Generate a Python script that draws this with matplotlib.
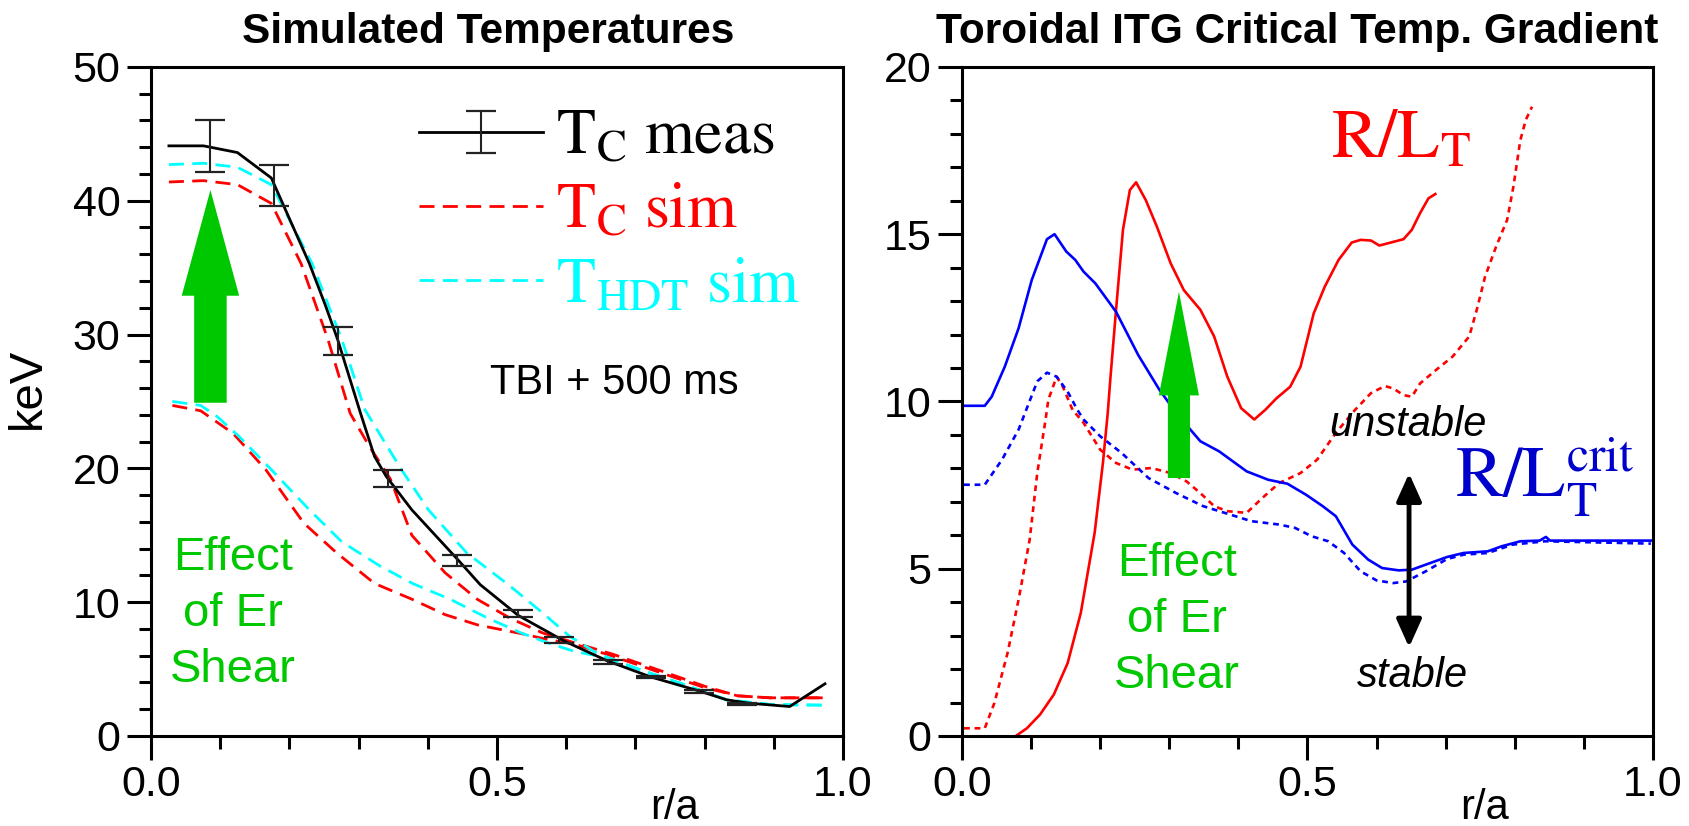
import numpy as np
import matplotlib
matplotlib.use('Agg')
import matplotlib.pyplot as plt
from matplotlib.ticker import MultipleLocator
from matplotlib.container import ErrorbarContainer
from matplotlib.legend_handler import HandlerTuple, HandlerErrorbar

# ─── Left panel data: simulated temperatures (keV vs r/a) ─────────
tc_meas_r = [0.026, 0.076, 0.125, 0.174, 0.229, 0.252, 0.27, 0.303, 0.323, 0.34, 0.377,
             0.443, 0.476, 0.531, 0.597, 0.66, 0.723, 0.793, 0.832, 0.864, 0.923, 0.974]
tc_meas = [44.1, 44.1, 43.6, 41.7, 35.3, 32.2, 29.6, 24.1, 20.9, 19.4, 16.9,
           13.2, 11.3, 9.0, 7.1, 5.6, 4.4, 3.35, 2.7, 2.45, 2.2, 3.9]

eb_r = [0.086, 0.178, 0.27, 0.342, 0.443, 0.531, 0.589, 0.66, 0.723, 0.792, 0.854]
eb_lo = [42.15, 39.6, 28.5, 18.6, 12.7, 8.9, 6.95, 5.4, 4.3, 3.2, 2.3]
eb_hi = [46.0, 42.7, 30.6, 19.86, 13.5, 9.44, 7.4, 5.66, 4.5, 3.4, 2.5]

tc_sim_r = [0.026, 0.076, 0.125, 0.174, 0.217, 0.256, 0.288, 0.315, 0.346, 0.377, 0.425,
            0.472, 0.519, 0.566, 0.613, 0.668, 0.738, 0.801, 0.848, 0.895, 0.974]
tc_sim = [41.4, 41.5, 41.2, 39.8, 35.3, 29.6, 24.1, 21.7, 19.2, 15.0, 12.2,
          10.2, 8.8, 7.7, 6.95, 6.1, 4.85, 3.7, 3.0, 2.85, 2.85]

thdt_sim_r = [0.026, 0.076, 0.125, 0.174, 0.233, 0.276, 0.309, 0.362, 0.401, 0.456,
              0.519, 0.566, 0.605, 0.644, 0.707, 0.77, 0.832, 0.895, 0.974]
thdt_sim = [42.7, 42.8, 42.5, 41.2, 35.3, 29.6, 24.4, 19.9, 16.9, 13.7,
            11.2, 9.2, 7.45, 6.2, 4.95, 3.85, 2.7, 2.35, 2.3]

# without Er shear
tc_noer_r = [0.031, 0.072, 0.119, 0.166, 0.221, 0.268, 0.323, 0.378, 0.425, 0.472,
             0.535, 0.574, 0.613, 0.668, 0.738, 0.801, 0.848, 0.895, 0.974]
tc_noer = [24.7, 24.3, 22.6, 19.9, 15.9, 13.7, 11.4, 10.2, 9.07, 8.3,
           7.65, 7.2, 6.85, 5.95, 4.7, 3.6, 3.0, 2.85, 2.85]

thdt_noer_r = [0.031, 0.072, 0.095, 0.127, 0.174, 0.229, 0.276, 0.331, 0.378, 0.433,
               0.487, 0.535, 0.574, 0.613, 0.644, 0.707, 0.77, 0.832, 0.895, 0.974]
thdt_noer = [25.0, 24.7, 23.9, 22.4, 19.9, 16.9, 14.5, 12.7, 11.4, 10.2,
             8.8, 7.7, 6.95, 6.3, 6.0, 4.95, 3.85, 2.7, 2.35, 2.3]

# ─── Right panel data: R/L_T and critical gradient ────────────────
crit_r = [0.003, 0.033, 0.043, 0.062, 0.082, 0.101, 0.123, 0.134, 0.151, 0.164, 0.176,
          0.193, 0.223, 0.255, 0.286, 0.31, 0.318, 0.345, 0.372, 0.412, 0.443, 0.471,
          0.498, 0.522, 0.541, 0.565, 0.588, 0.608, 0.632, 0.651, 0.671, 0.702, 0.726,
          0.761, 0.781, 0.808, 0.836, 0.845, 0.851, 0.997]
crit = [9.87, 9.87, 10.14, 11.04, 12.19, 13.63, 14.85, 15.0, 14.48, 14.23, 13.88,
        13.53, 12.68, 11.39, 10.34, 9.66, 9.46, 8.81, 8.51, 7.91, 7.66, 7.54,
        7.21, 6.87, 6.57, 5.72, 5.27, 5.02, 4.95, 4.97, 5.12, 5.35, 5.47,
        5.52, 5.67, 5.82, 5.84, 5.95, 5.84, 5.84]

crit_noer_r = [0.003, 0.033, 0.058, 0.082, 0.094, 0.109, 0.123, 0.137, 0.153, 0.167,
               0.176, 0.2, 0.231, 0.27, 0.31, 0.349, 0.38, 0.419, 0.459, 0.482, 0.506,
               0.53, 0.553, 0.577, 0.6, 0.624, 0.643, 0.671, 0.702, 0.726, 0.761,
               0.797, 0.844, 0.997]
crit_noer = [7.51, 7.51, 8.26, 9.16, 9.8, 10.6, 10.86, 10.74, 10.29, 9.75,
             9.46, 8.96, 8.46, 7.71, 7.26, 6.87, 6.67, 6.42, 6.32, 6.22, 5.97,
             5.82, 5.47, 4.92, 4.65, 4.57, 4.62, 4.92, 5.29, 5.42, 5.47,
             5.72, 5.82, 5.75]

rlt_r = [0.078, 0.094, 0.113, 0.133, 0.153, 0.172, 0.192, 0.204, 0.211, 0.215, 0.223,
         0.233, 0.243, 0.252, 0.266, 0.282, 0.302, 0.321, 0.345, 0.365, 0.384, 0.404,
         0.423, 0.439, 0.455, 0.475, 0.49, 0.509, 0.525, 0.545, 0.564, 0.577, 0.592,
         0.604, 0.639, 0.651, 0.663, 0.675, 0.685]
rlt = [0.0, 0.23, 0.64, 1.24, 2.18, 3.68, 6.07, 8.16, 9.66, 10.74, 12.74,
       15.13, 16.32, 16.55, 16.02, 15.23, 14.13, 13.33, 12.74, 11.94, 10.74, 9.8,
       9.46, 9.75, 10.09, 10.44, 11.04, 12.63, 13.43, 14.23, 14.75, 14.83, 14.81,
       14.66, 14.85, 15.13, 15.63, 16.07, 16.2]

rlt_noer_r = [0.003, 0.033, 0.047, 0.066, 0.082, 0.098, 0.109, 0.121, 0.125, 0.137,
              0.146, 0.16, 0.176, 0.2, 0.223, 0.247, 0.274, 0.302, 0.325, 0.345, 0.365,
              0.384, 0.412, 0.435, 0.459, 0.49, 0.514, 0.541, 0.569, 0.592, 0.612,
              0.624, 0.639, 0.651, 0.663, 0.686, 0.71, 0.734, 0.745, 0.757, 0.773,
              0.789, 0.798, 0.808, 0.816, 0.825]
rlt_noer = [0.23, 0.23, 0.99, 2.48, 4.08, 5.87, 7.86, 9.46, 10.05, 10.74,
            10.44, 9.75, 9.36, 8.56, 8.16, 7.96, 8.01, 7.86, 7.61, 7.26, 6.87,
            6.72, 6.67, 7.12, 7.56, 7.86, 8.26, 9.06, 9.75, 10.25, 10.46,
            10.39, 10.19, 10.14, 10.54, 10.94, 11.34, 11.94, 12.74, 13.73, 14.63,
            15.43, 16.42, 17.81, 18.42, 18.81]

# ─── Style ─────────────────────────────────────────────────────────
plt.rcParams.update({
    'font.family': ['Liberation Sans', 'DejaVu Sans'],
    'mathtext.fontset': 'stix',
    'axes.linewidth': 2.2,
})
GREEN = '#00c800'
CYAN = '#00ffff'
RED = '#ff0000'
BLUE = '#0000ff'
TICK_FS = 31

fig = plt.figure(figsize=(16.9, 8.26), dpi=100)
ax1 = fig.add_axes([0.0893, 0.109, 0.4095, 0.810])
ax2 = fig.add_axes([0.5692, 0.109, 0.4089, 0.810])


def style_axes(ax, ymax, ymajor, yminor):
    ax.set_xlim(0, 1)
    ax.set_ylim(0, ymax)
    ax.xaxis.set_major_locator(MultipleLocator(0.5))
    ax.xaxis.set_minor_locator(MultipleLocator(0.1))
    ax.yaxis.set_major_locator(MultipleLocator(ymajor))
    ax.yaxis.set_minor_locator(MultipleLocator(yminor))
    ax.xaxis.set_major_formatter(matplotlib.ticker.FormatStrFormatter('%.1f'))
    ax.tick_params(which='major', direction='out', length=17, width=2.2,
                   labelsize=TICK_FS, pad=5)
    ax.tick_params(which='minor', direction='out', length=9, width=2.2)
    ax.tick_params(axis='x', which='major', pad=4)
    ax.set_xlabel('r/a', fontsize=30)
    ax.xaxis.set_label_coords(0.756, -0.078)


# ═══ Left: Simulated Temperatures ═══
lw = 2.0
dash = (5.4, 3.0)
ax1.plot(tc_noer_r, tc_noer, color=RED, lw=lw, dashes=dash)
ax1.plot(thdt_noer_r, thdt_noer, color=CYAN, lw=lw, dashes=dash)
h_sim, = ax1.plot(tc_sim_r, tc_sim, color=RED, lw=lw, dashes=dash)
h_hdt, = ax1.plot(thdt_sim_r, thdt_sim, color=CYAN, lw=lw, dashes=dash)
h_meas, = ax1.plot(tc_meas_r, tc_meas, color='black', lw=2.0)
eb_mid = [(lo + hi) / 2 for lo, hi in zip(eb_lo, eb_hi)]
eb_err = [(hi - lo) / 2 for lo, hi in zip(eb_lo, eb_hi)]
h_eb = ax1.errorbar(eb_r, eb_mid, yerr=eb_err, fmt='none', ecolor='#222222',
                    elinewidth=1.5, capsize=11, capthick=1.6)

ax1.arrow(0.086, 24.9, 0, 15.9, width=0.047, head_width=0.083, head_length=7.9,
          length_includes_head=True, color=GREEN, lw=0, zorder=4)

ax1.text(0.49, 26.4, 'TBI + 500 ms', fontsize=30, va='center', ha='left')
ax1.text(0.118, 9.1, 'Effect\nof Er\nShear', color=GREEN, fontsize=34,
         ha='center', va='center', linespacing=1.35)

leg = ax1.legend([(h_meas, h_eb), h_sim, h_hdt],
                 [r'$\mathrm{T_C\ meas}$', r'$\mathrm{T_C\ sim}$', r'$\mathrm{T_{HDT}\ sim}$'],
                 handler_map={tuple: HandlerTuple(ndivide=1),
                              ErrorbarContainer: HandlerErrorbar(xerr_size=0.33,
                                                                 yerr_size=0.33)},
                 loc='upper left', bbox_to_anchor=(0.387, 0.94), frameon=False,
                 fontsize=46, handlelength=1.95, handletextpad=0.2, labelspacing=0.22,
                 borderpad=0, borderaxespad=0,
                 labelcolor=['black', RED, CYAN])

style_axes(ax1, 50, 10, 2)
ax1.set_title('Simulated Temperatures', fontsize=30.5, fontweight='bold', pad=17,
              x=0.487)
ax1.set_ylabel('keV', fontsize=34)
ax1.yaxis.set_label_coords(-0.146, 0.52)

# ═══ Right: Toroidal ITG Critical Temp. Gradient ═══
ax2.plot(rlt_noer_r, rlt_noer, color=RED, lw=1.9, dashes=(2.2, 1.8))
ax2.plot(crit_noer_r, crit_noer, color=BLUE, lw=1.9, dashes=(2.2, 1.8))
ax2.plot(rlt_r, rlt, color=RED, lw=1.9)
ax2.plot(crit_r, crit, color=BLUE, lw=1.9)

ax2.arrow(0.314, 7.71, 0, 5.57, width=0.032, head_width=0.058, head_length=3.1,
          length_includes_head=True, color=GREEN, lw=0, zorder=4)
ax2.annotate('', xy=(0.647, 7.85), xytext=(0.647, 2.65),
             arrowprops=dict(arrowstyle='<|-|>,head_length=0.6,head_width=0.27',
                             lw=3.5, color='black', shrinkA=0, shrinkB=0,
                             mutation_scale=28))

ax2.text(0.311, 3.47, 'Effect\nof Er\nShear', color=GREEN, fontsize=34,
         ha='center', va='center', linespacing=1.35)
ax2.text(0.645, 9.3, 'unstable', fontsize=30, style='italic', ha='center', va='center')
ax2.text(0.652, 1.8, 'stable', fontsize=30, style='italic', ha='center', va='center')
ax2.text(0.534, 17.28, r'$\mathrm{R/L_T}$', color=RED, fontsize=50, ha='left',
         va='baseline')
ax2.text(0.713, 7.11, r'$\mathrm{R/L_T^{crit}}$', color='#0000cc', fontsize=51,
         ha='left', va='baseline')

style_axes(ax2, 20, 5, 1)
ax2.set_title('Toroidal ITG Critical Temp. Gradient', fontsize=30.5, fontweight='bold',
              pad=17, x=0.485)

fig.savefig('out.png', dpi=100)
